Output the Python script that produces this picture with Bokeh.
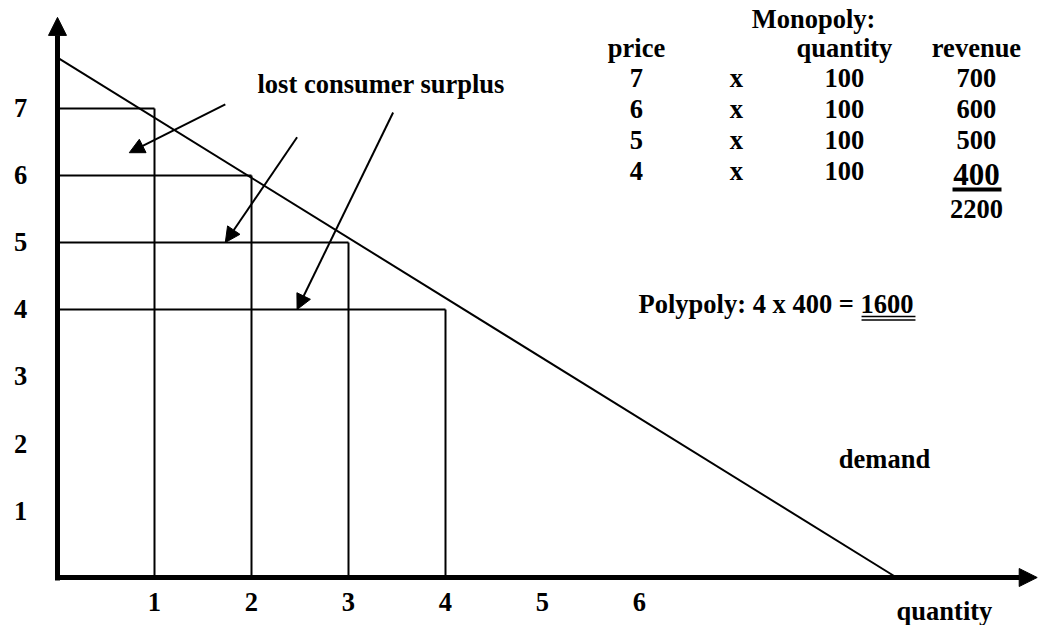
from bokeh.plotting import figure
from bokeh.models import Arrow, NormalHead, Range1d
from bokeh.core.properties import value
from bokeh.embed import file_html
from bokeh.resources import INLINE

# ---------------- data ----------------
quantities = [1, 2, 3, 4]          # quantity steps (monopoly blocks)
prices = [7, 6, 5, 4]              # price steps
demand_q = [0, 8.65]               # demand curve end points (quantity)
demand_p = [7.76, 0]               # demand curve end points (price)
price_ticks = [1, 2, 3, 4, 5, 6, 7]
quantity_ticks = [1, 2, 3, 4, 5, 6]

table_price = [7, 6, 5, 4]
table_qty = [100, 100, 100, 100]
table_revenue = [700, 600, 500, 400]
monopoly_total = 2200
polypoly_price = 4
polypoly_qty = 400
polypoly_revenue = 1600

# arrows "lost consumer surplus": (start q, start p) -> (end q, end p)
arrow_start_q = [1.73, 2.47, 3.46]
arrow_start_p = [7.06, 6.57, 6.94]
arrow_end_q = [0.74, 1.73, 2.47]
arrow_end_p = [6.34, 5.0, 4.0]

FONT = value("Liberation Serif")
FS = "26.5px"

p = figure(width=1039, height=625,
           x_range=Range1d(-0.5876, 10.1237), y_range=Range1d(-0.7164, 8.6119),
           output_backend="svg", toolbar_location=None,
           x_axis_location=None, y_axis_location=None, min_border=0)
p.grid.visible = False
p.outline_line_color = None
p.background_fill_color = "white"

# main axes with arrow heads
p.add_layout(Arrow(end=NormalHead(size=18, fill_color="black", line_color="black"),
                   x_start=0, y_start=-0.045, x_end=0, y_end=8.36,
                   line_width=5, line_color="black"))
p.add_layout(Arrow(end=NormalHead(size=18, fill_color="black", line_color="black"),
                   x_start=-0.025, y_start=0, x_end=10.1, y_end=0,
                   line_width=5, line_color="black"))

# step blocks
p.segment(x0=[0] * len(prices), y0=prices, x1=quantities, y1=prices,
          line_color="black", line_width=2)
p.segment(x0=quantities, y0=prices, x1=quantities, y1=[0] * len(prices),
          line_color="black", line_width=2)

# demand line
p.line(demand_q, demand_p, line_color="black", line_width=2)

# annotation arrows
for xs, ys, xe, ye in zip(arrow_start_q, arrow_start_p, arrow_end_q, arrow_end_p):
    p.add_layout(Arrow(end=NormalHead(size=15, fill_color="black", line_color="black"),
                       x_start=xs, y_start=ys, x_end=xe, y_end=ye,
                       line_width=2, line_color="black"))

common = dict(text_font=FONT, text_font_style="bold", text_color="black",
              text_baseline="middle")

# tick labels
p.text(x=[-0.38] * len(price_ticks), y=price_ticks, text=[str(v) for v in price_ticks],
       text_font_size=FS, text_align="center", **common)
p.text(x=quantity_ticks, y=[-0.373] * len(quantity_ticks), text=[str(v) for v in quantity_ticks],
       text_font_size=FS, text_align="center", **common)

# labels
p.text(x=[2.062], y=[7.373], text=["lost consumer surplus"], text_font_size=FS,
       text_align="left", **common)
p.text(x=[8.526], y=[1.776], text=["demand"], text_font_size=FS,
       text_align="center", **common)
p.text(x=[9.144], y=[-0.493], text=["quantity"], text_font_size=FS,
       text_align="center", **common)

# monopoly table
col_price, col_x, col_qty, col_rev = 5.969, 7.0, 8.113, 9.474
row0, step = 7.448, 0.458
p.text(x=[7.794], y=[8.343], text=["Monopoly:"], text_font_size=FS,
       text_align="center", **common)
p.text(x=[col_price, col_qty, col_rev], y=[7.896] * 3, text=["price", "quantity", "revenue"],
       text_font_size=FS, text_align="center", **common)
rows_y = [row0 - i * step for i in range(len(table_price))]
p.text(x=[col_price] * len(rows_y), y=rows_y, text=[str(v) for v in table_price],
       text_font_size=FS, text_align="center", **common)
p.text(x=[col_x] * len(rows_y), y=rows_y, text=["x"] * len(rows_y),
       text_font_size=FS, text_align="center", **common)
p.text(x=[col_qty] * len(rows_y), y=rows_y, text=[str(v) for v in table_qty],
       text_font_size=FS, text_align="center", **common)
p.text(x=[col_rev] * (len(rows_y) - 1), y=rows_y[:-1], text=[str(v) for v in table_revenue[:-1]],
       text_font_size=FS, text_align="center", **common)
p.text(x=[col_rev], y=[6.022], text=[str(table_revenue[-1])],
       text_font_size="31px", text_align="center", **common)
p.line([9.227, 9.732], [5.791, 5.791], line_color="black", line_width=4)
p.text(x=[col_rev], y=[5.507], text=[str(monopoly_total)],
       text_font_size=FS, text_align="center", **common)

# polypoly
p.text(x=[5.99], y=[4.075],
       text=[f"Polypoly: {polypoly_price} x {polypoly_qty} = {polypoly_revenue}"],
       text_font_size=FS, text_align="left", **common)
p.line([8.289, 8.845], [3.896, 3.896], line_color="black", line_width=1.5)
p.line([8.289, 8.845], [3.843, 3.843], line_color="black", line_width=1.5)

open("out.html", "w").write(file_html(p, INLINE))
